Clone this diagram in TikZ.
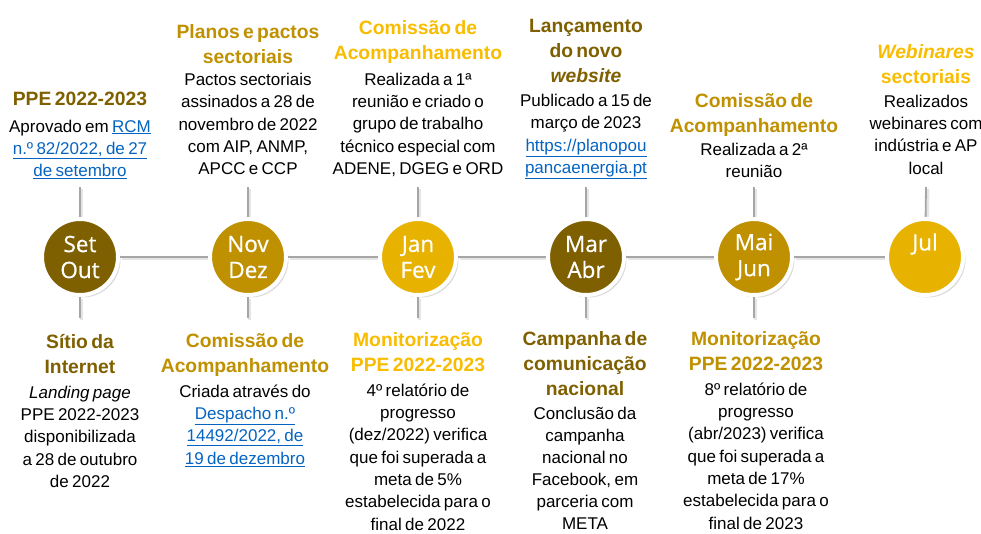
\documentclass[tikz,border=0pt]{standalone}
\usepackage{fontspec}
\setmainfont{Liberation Sans}
\newfontfamily\circfont[FakeBold=0.7]{Open Sans}
\usetikzlibrary{shadows,backgrounds}
\definecolor{gdark}{RGB}{127,96,0}
\definecolor{gmid}{RGB}{191,144,0}
\definecolor{glight}{RGB}{232,178,0}
\definecolor{gbright}{RGB}{248,188,0}
\definecolor{lnk}{RGB}{5,99,193}
\definecolor{lgray}{RGB}{166,166,166}
\newcommand{\lk}[1]{{\color{lnk}\underline{#1}}}
\newcommand{\ttlfont}{\fontsize{19.3}{25.3}\selectfont\bfseries}
\newcommand{\bdyfont}{\fontsize{17}{22.3}\selectfont}
\newcommand{\blk}[4]{{\color{#1}\ttlfont #3\par}\vspace{#2pt}{\bdyfont #4\par}}
\newcommand{\tlpaths}[1]{%
  \draw[#1] (c1) -- (c2); \draw[#1] (c2) -- (c3); \draw[#1] (c3) -- (c4);
  \draw[#1] (c4) -- (c5); \draw[#1] (c5) -- (c6);
  \draw[#1] (u1) -- (c1); \draw[#1] (u2) -- (c2); \draw[#1] (u3) -- (c3);
  \draw[#1] (u4) -- (c4); \draw[#1] (u5) -- (c5); \draw[#1] (u6) -- (c6);
  \draw[#1] (c1) -- (d1); \draw[#1] (c2) -- (d2); \draw[#1] (c3) -- (d3);
  \draw[#1] (c4) -- (d4); \draw[#1] (c5) -- (d5);}
\begin{document}
\begin{tikzpicture}[x=1pt,y=-1pt,
  circ/.style={circle, minimum size=76pt, inner sep=0pt, draw=white, line width=4pt,
    text=white, align=center, font=\circfont\fontsize{22.5}{26}\selectfont,
    drop shadow={shadow xshift=2.5pt, shadow yshift=-2.5pt, opacity=0.28}},
  txt/.style={text width=172pt, align=center, inner sep=0pt, anchor=base},
  tl/.style={draw=lgray, line width=1.8pt},
  tlsh/.style={draw=black!10, line width=3.2pt}]
\useasboundingbox (0,0) rectangle (981,533);

% circles
\node[circ, fill=gdark]  (c1) at (80,257)  {Set\\Out};
\node[circ, fill=gmid]   (c2) at (248,257) {Nov\\Dez};
\node[circ, fill=glight] (c3) at (418,257) {Jan\\Fev};
\node[circ, fill=gdark]  (c4) at (586,257) {Mar\\Abr};
\node[circ, fill=gmid]   (c5) at (754,257) {Mai\\Jun};
\node[circ, fill=glight] (c6) at (925,257) {Jul\\\phantom{Jul}};

\foreach \i/\x in {1/80,2/248,3/418,4/586,5/754,6/926}{
  \coordinate (u\i) at (\x,187);
}
\foreach \i/\x in {1/80,2/248,3/418,4/586,5/754}{
  \coordinate (d\i) at (\x,318);
}

\begin{scope}[on background layer]
  \begin{scope}[transform canvas={shift={(1.8pt,-1.8pt)}}]
    \tlpaths{tlsh}
  \end{scope}
  \tlpaths{tl}
\end{scope}

% top texts
\node[txt] (T1) at (80,105) {\blk{gdark}{4.7}{PPE 2022-2023}{Aprovado em \lk{RCM}\\\lk{n.º 82/2022, de 27}\\\lk{de setembro}}};
\node[txt] (T2) at (248,38) {\blk{gmid}{0}{Planos e pactos\\sectoriais}{Pactos sectoriais\\assinados a 28 de\\novembro de 2022\\com AIP, ANMP,\\APCC e CCP}};
\node[txt] (T3) at (418,34) {\blk{gbright}{3.7}{Comissão de\\Acompanhamento}{Realizada a 1ª\\reunião e criado o\\grupo de trabalho\\técnico especial com\\ADENE, DGEG e ORD}};
\node[txt] (T4) at (586,32) {\blk{gdark}{1.7}{Lançamento\\do novo\\\textit{website}}{Publicado a 15 de\\março de 2023\\\lk{https://planopou}\\\lk{pancaenergia.pt}}};
\node[txt] (T5) at (754,107) {\blk{gmid}{0.7}{Comissão de\\Acompanhamento}{Realizada a 2ª\\reunião}};
\node[txt] (T6) at (926,58) {\blk{gbright}{1.7}{\textit{Webinares}\\sectoriais}{Realizados\\webinares com\\indústria e AP\\local}};

% bottom texts
\node[txt] (B1) at (80,348) {\blk{gdark}{2.7}{Sítio da\\Internet}{\textit{Landing page}\\PPE 2022-2023\\disponibilizada\\a 28 de outubro\\de 2022}};
\node[txt] (B2) at (245,347) {\blk{gmid}{2.7}{Comissão de\\Acompanhamento}{Criada através do\\\lk{Despacho n.º}\\\lk{14492/2022, de}\\\lk{19 de dezembro}}};
\node[txt] (B3) at (418,346) {\blk{gbright}{2.7}{Monitorização\\PPE 2022-2023}{4º relatório de\\progresso\\(dez/2022) verifica\\que foi superada a\\meta de 5\%\\estabelecida para o\\final de 2022}};
\node[txt] (B4) at (585,345) {\blk{gdark}{2.2}{Campanha de\\comunicação\\nacional}{\fontsize{17}{21.9}\selectfont Conclusão da\\campanha\\nacional no\\Facebook, em\\parceria com\\META}};
\node[txt] (B5) at (756,345) {\blk{gmid}{2.7}{Monitorização\\PPE 2022-2023}{8º relatório de\\progresso\\(abr/2023) verifica\\que foi superada a\\meta de 17\%\\estabelecida para o\\final de 2023}};
\end{tikzpicture}
\end{document}
